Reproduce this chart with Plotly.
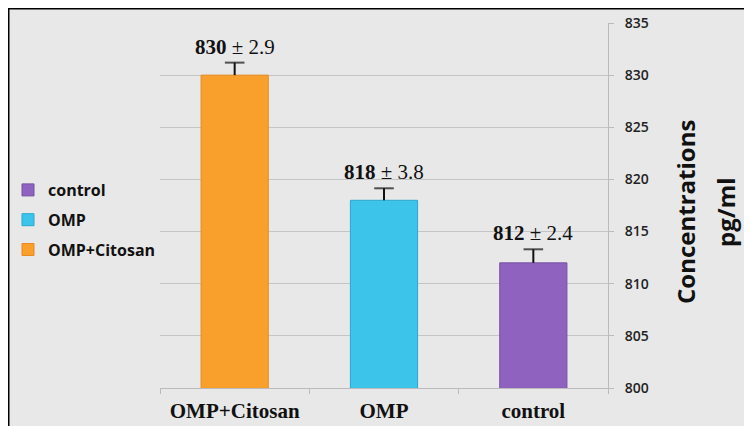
import plotly.graph_objects as go

categories = ["OMP+Citosan", "OMP", "control"]
means = [830, 818, 812]
sd_labels = ["2.9", "3.8", "2.4"]
err_drawn = [1.2, 1.15, 1.3]
colors = ["#F9A02C", "#3CC4EA", "#8F62BF"]
line_colors = ["#E88A20", "#2AA8CC", "#7550A3"]
y_ticks = [800, 805, 810, 815, 820, 825, 830, 835]
legend_order = ["control", "OMP", "OMP+Citosan"]

# page is offset by the default 8px body margin; plot area on page: x 160..608, y 23..388
BODY = 8
PL, PR, PT, PB = 160, 608, 23, 388
W, H = 752, 426


def px(x):
    return (x - PL) / (PR - PL)


def py(y):
    return (PB - y) / (PB - PT)


fig = go.Figure()
for c in legend_order:
    i = categories.index(c)
    fig.add_trace(go.Bar(
        x=[c], y=[means[i]], name=c, legendgroup=c,
        marker=dict(color=colors[i], line=dict(color=line_colors[i], width=1)),
        width=0.45,
    ))
for i, c in enumerate(categories):
    fig.add_trace(go.Scatter(
        x=[c, c], y=[means[i], means[i] + err_drawn[i]], mode="lines+markers",
        line=dict(color="#111111", width=2),
        marker=dict(symbol="line-ew", size=[0, 14], line=dict(width=2, color="#111111")),
        showlegend=False, hoverinfo="skip",
    ))
    fig.add_annotation(
        x=c, y=means[i] + err_drawn[i], yref="y", xref="x",
        text=f"<b>{means[i]}</b> ± {sd_labels[i]}", showarrow=False,
        yanchor="bottom", yshift=2,
        font=dict(family="Liberation Serif", size=21, color="#111111"),
    )

for txt, xpos in [("Concentrations", 685), ("pg/ml", 725)]:
    fig.add_annotation(
        x=px(xpos), y=py(212), xref="paper", yref="paper", xanchor="center", yanchor="middle",
        text=txt, textangle=-90, showarrow=False,
        font=dict(family="Open Sans", size=24, color="#111111", weight="bold"),
    )

# outer black frame at the figure's top/left edge
fx = px(BODY)
fy = py(BODY)
fig.add_shape(type="line", xref="paper", yref="paper", x0=fx, x1=fx,
              y0=py(H + 20), y1=fy, line=dict(color="black", width=3))
fig.add_shape(type="line", xref="paper", yref="paper", x0=fx, x1=px(W + 20),
              y0=fy, y1=fy, line=dict(color="black", width=3))

fig.update_layout(
    width=W, height=H,
    margin=dict(l=PL - BODY, r=W - PR + BODY, t=PT - BODY, b=H - PB + BODY, autoexpand=False),
    paper_bgcolor="#E8E8E8", plot_bgcolor="#E8E8E8",
    showlegend=True, barmode="overlay",
    legend=dict(x=px(BODY), xanchor="left", y=py(173), yanchor="top",
                traceorder="grouped", tracegroupgap=6, itemwidth=30,
                font=dict(family="Open Sans", size=16, color="#111111", weight="bold"),
                bgcolor="rgba(0,0,0,0)"),
    xaxis=dict(
        categoryorder="array", categoryarray=categories,
        showline=True, linecolor="#BBBBBB", linewidth=1,
        ticks="outside", tickson="boundaries", ticklen=5, tickcolor="#BBBBBB",
        showgrid=False, ticklabelstandoff=4,
        tickfont=dict(family="Liberation Serif", size=21, color="#111111", weight="bold"),
    ),
    yaxis=dict(
        side="right", range=[800, 835], tickvals=y_ticks,
        showline=True, linecolor="#BBBBBB", linewidth=1,
        ticks="outside", ticklen=5, tickcolor="#BBBBBB", ticklabelstandoff=8,
        showgrid=True, gridcolor="#C4C4C4", gridwidth=1,
        zeroline=False,
        tickfont=dict(family="Open Sans", size=14, color="#222222", weight=600),
    ),
)

fig.write_html("out.html")
